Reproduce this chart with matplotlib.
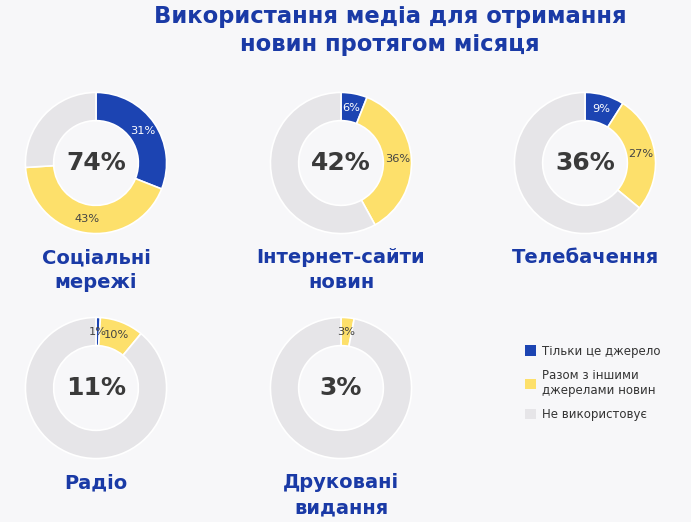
import numpy as np
import matplotlib.pyplot as plt
from matplotlib.patches import Patch

# Дані
categories = ['Соціальні\nмережі', 'Інтернет-сайти\nновин', 'Телебачення', 'Радіо', 'Друковані\nвидання']
only_this = [31, 6, 9, 1, 0]
with_others = [43, 36, 27, 10, 3]
totals = [74, 42, 36, 11, 3]
legend_labels = ['Тільки це джерело', 'Разом з іншими\nджерелами новин', 'Не використовує']

blue = '#1c44b2'
yellow = '#fde06b'
grey = '#e6e5e8'
bg = '#f7f7f9'
title_blue = '#1a3aa6'
dark = '#3a3a3a'

W, H = 691, 522
fig = plt.figure(figsize=(W / 100, H / 100), dpi=100, facecolor=bg)

fig.text(390 / W, 1 - 5 / H, 'Використання медіа для отримання\nновин протягом місяця',
         ha='center', va='top', fontsize=16.3, fontweight='bold', color=title_blue, linespacing=1.25)

# центри кілець у пікселях
centers = [(96, 163), (341, 163), (585, 163), (96, 388), (341, 388)]
r_px = 72

for i, (cx, cy) in enumerate(centers):
    ax = fig.add_axes([(cx - r_px) / W, 1 - (cy + r_px) / H, 2 * r_px / W, 2 * r_px / H])
    ax.set_facecolor(bg)
    vals = [only_this[i], with_others[i], 100 - totals[i]]
    wedges, _ = ax.pie(vals, colors=[blue, yellow, grey], startangle=90, counterclock=False,
                       radius=1, wedgeprops=dict(width=0.4, edgecolor='white', linewidth=1.2))
    for k, (w, v) in enumerate(zip(wedges[:2], vals[:2])):
        if v <= 0:
            continue
        ang = np.deg2rad((w.theta1 + w.theta2) / 2)
        col = 'white' if k == 0 and v > 2 else '#444444'
        ax.text(0.8 * np.cos(ang), 0.8 * np.sin(ang), f'{v}%', ha='center', va='center',
                fontsize=8.2, color=col)
    ax.text(0, 0, f'{totals[i]}%', ha='center', va='center', fontsize=18,
            fontweight='bold', color=dark)
    ax.set_xlim(-1.02, 1.02)
    ax.set_ylim(-1.02, 1.02)
    ax.set_aspect('equal')
    ax.axis('off')

    fig.text(cx / W, 1 - (cy + r_px + 13) / H, categories[i], ha='center', va='top',
             fontsize=14, fontweight='bold', color=title_blue, linespacing=1.4)

handles = [Patch(facecolor=c, edgecolor='none') for c in [blue, yellow, grey]]
leg = fig.legend(handles, legend_labels, loc='upper left', bbox_to_anchor=(514 / W, 1 - 334 / H),
                 frameon=False, fontsize=8.5, handlelength=1.0, handleheight=1.0,
                 labelspacing=0.95, handletextpad=0.5)
for t in leg.get_texts():
    t.set_color('#333333')

plt.savefig('out.png', dpi=100, facecolor=bg)
